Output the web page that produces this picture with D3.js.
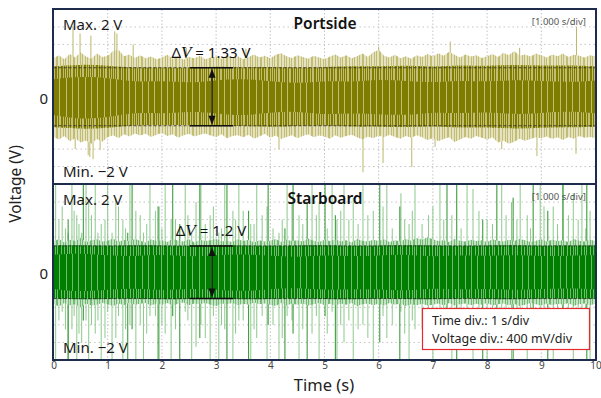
<!DOCTYPE html>
<html>
<head>
<meta charset="utf-8">
<script src="https://cdn.jsdelivr.net/npm/d3@7"></script>
<style>
  body { margin: 0; background: #fff; }
  svg { display: block; }
  text { font-family: "Noto Sans", "DejaVu Sans", sans-serif; }
</style>
</head>
<body>
<svg id="chart" width="601" height="398"></svg>
<script>
// ---- data -------------------------------------------------------------
const timeTicks = [0, 1, 2, 3, 4, 5, 6, 7, 8, 9, 10];
const voltDomain = [-2, 2];

// Envelope of the port-side trace, sampled every 0.1 s (V)
const portOuterHi = [
  0.88,0.95,0.86,0.98,0.90,1.02,0.92,0.87,0.99,0.91,
  0.94,1.05,1.08,0.93,0.97,0.89,0.95,0.88,0.92,0.86,
  0.90,0.96,0.87,0.93,0.85,0.91,0.88,0.94,0.86,0.90,
  0.92,0.87,0.95,0.89,0.93,0.86,0.91,0.97,0.90,0.94,
  0.88,0.96,1.00,0.93,0.89,0.95,0.91,0.87,0.94,0.90,
  0.86,0.92,0.97,0.90,0.95,0.88,0.93,0.99,0.91,1.02,
  1.08,0.94,0.90,0.96,0.88,0.93,0.87,0.95,0.91,0.98,
  0.92,1.00,0.94,1.03,0.96,0.90,0.97,0.92,0.95,0.89,
  0.93,0.98,0.91,1.01,0.95,1.05,0.94,0.97,0.92,0.99,
  0.95,0.90,0.97,0.93,0.99,0.91,0.96,0.94,0.90,0.95,0.92];
const portOuterLo = [
  -0.92,-0.98,-0.90,-1.02,-0.95,-1.05,-1.00,-1.08,-0.97,-1.03,
  -0.93,-0.88,-0.95,-0.86,-0.91,-0.84,-0.89,-0.85,-0.92,-0.87,
  -0.83,-0.90,-0.86,-0.94,-0.88,-0.85,-0.91,-0.87,-0.84,-0.89,
  -0.92,-0.86,-0.95,-0.90,-0.88,-0.93,-0.87,-0.96,-0.91,-0.85,
  -0.94,-0.89,-0.97,-0.92,-0.88,-0.95,-0.90,-0.86,-0.93,-0.89,
  -0.91,-0.96,-0.88,-0.94,-0.90,-0.87,-0.93,-0.98,-0.91,-0.95,
  -0.89,-0.93,-0.87,-0.92,-0.96,-0.90,-0.94,-0.88,-0.93,-0.99,
  -0.95,-1.02,-0.97,-0.93,-1.04,-0.98,-0.92,-0.96,-0.90,-0.94,
  -0.98,-0.93,-1.05,-1.00,-1.08,-1.03,-0.96,-1.01,-0.97,-0.93,
  -0.95,-0.91,-0.97,-0.93,-0.99,-0.92,-0.96,-0.90,-0.94,-0.92,-0.95];
// Dense part of the port-side trace, sampled every 0.5 s (V)
const portMidHi  = [0.70,0.74,0.72,0.66,0.68,0.65,0.70,0.67,0.69,0.66,0.68,0.71,0.69,0.72,0.68,0.73,0.70,0.74,0.71,0.72,0.70];
const portMidLo  = [-0.70,-0.74,-0.72,-0.64,-0.66,-0.64,-0.68,-0.66,-0.70,-0.67,-0.66,-0.69,-0.68,-0.70,-0.67,-0.72,-0.69,-0.74,-0.71,-0.70,-0.69];
const portCoreHi = [0.40,0.47,0.44,0.33,0.37,0.31,0.38,0.42,0.35,0.30,0.37,0.33,0.40,0.36,0.32,0.38,0.34,0.39,0.36,0.33,0.37];
const portCoreLo = [-0.42,-0.52,-0.48,-0.35,-0.40,-0.33,-0.38,-0.44,-0.36,-0.33,-0.42,-0.37,-0.40,-0.43,-0.35,-0.39,-0.34,-0.41,-0.37,-0.33,-0.38];
// Isolated port-side spikes: time (s) and peak (V)
const portSpikeT = [0.36,0.40,0.49,0.64,0.67,0.69,0.73,0.86,1.13,1.17,1.47,2.45,3.55,4.16,5.71,6.00,6.08,6.61,7.04,7.32,8.27,8.60,8.92,9.64,9.65];
const portSpikeV = [1.60,-1.20,1.45,-1.34,-1.38,1.40,-1.43,-1.22,1.50,1.45,1.20,1.12,1.10,-1.20,-1.73,1.15,-1.52,-1.61,-1.15,1.27,-1.20,1.12,-1.36,-1.31,1.60];

// Envelope of the starboard trace, sampled every 0.1 s (V)
const starOuterHi = [
  0.70,0.76,0.68,0.74,0.71,0.78,0.69,0.73,0.75,0.70,
  0.72,0.77,0.69,0.74,0.70,0.76,0.72,0.68,0.75,0.71,
  0.73,0.69,0.77,0.72,0.70,0.75,0.68,0.74,0.71,0.73,
  0.76,0.70,0.72,0.69,0.75,0.71,0.74,0.68,0.73,0.70,
  0.72,0.76,0.69,0.74,0.71,0.73,0.70,0.77,0.72,0.69,
  0.74,0.71,0.75,0.70,0.73,0.68,0.76,0.72,0.70,0.74,
  0.71,0.75,0.69,0.73,0.70,0.76,0.72,0.78,0.74,0.80,
  0.75,0.71,0.73,0.69,0.76,0.72,0.70,0.74,0.71,0.73,
  0.69,0.75,0.72,0.70,0.74,0.71,0.76,0.73,0.69,0.72,
  0.75,0.70,0.74,0.71,0.73,0.69,0.76,0.72,0.70,0.74,0.71];
const starOuterLo = [
  -0.72,-0.78,-0.70,-0.75,-0.73,-0.80,-0.71,-0.76,-0.74,-0.70,
  -0.73,-0.77,-0.71,-0.75,-0.69,-0.74,-0.72,-0.70,-0.76,-0.71,
  -0.74,-0.70,-0.76,-0.72,-0.69,-0.75,-0.71,-0.73,-0.70,-0.74,
  -0.77,-0.71,-0.73,-0.70,-0.75,-0.72,-0.74,-0.69,-0.73,-0.71,
  -0.74,-0.77,-0.70,-0.75,-0.72,-0.74,-0.71,-0.76,-0.73,-0.70,
  -0.75,-0.72,-0.76,-0.71,-0.74,-0.70,-0.77,-0.73,-0.71,-0.75,
  -0.72,-0.76,-0.70,-0.74,-0.71,-0.77,-0.73,-0.75,-0.72,-0.76,
  -0.74,-0.71,-0.75,-0.70,-0.76,-0.73,-0.71,-0.75,-0.72,-0.74,
  -0.70,-0.76,-0.73,-0.71,-0.75,-0.72,-0.77,-0.74,-0.70,-0.73,
  -0.76,-0.71,-0.75,-0.72,-0.74,-0.70,-0.77,-0.73,-0.71,-0.75,-0.72];
// Dense part of the starboard trace, sampled every 0.5 s (V)
const starMidHi  = [0.61,0.62,0.60,0.62,0.61,0.60,0.62,0.61,0.60,0.61,0.62,0.60,0.61,0.62,0.61,0.60,0.61,0.62,0.60,0.61,0.61];
const starMidLo  = [-0.60,-0.62,-0.61,-0.60,-0.62,-0.61,-0.60,-0.62,-0.61,-0.60,-0.61,-0.62,-0.60,-0.61,-0.62,-0.60,-0.61,-0.62,-0.60,-0.61,-0.60];
const starCoreHi = [0.40,0.44,0.38,0.36,0.41,0.35,0.39,0.42,0.37,0.34,0.40,0.36,0.38,0.41,0.35,0.39,0.37,0.40,0.36,0.38,0.39];
const starCoreLo = [-0.38,-0.45,-0.40,-0.36,-0.42,-0.37,-0.40,-0.44,-0.38,-0.35,-0.41,-0.38,-0.39,-0.43,-0.36,-0.40,-0.37,-0.41,-0.38,-0.36,-0.39];
// Starboard spikes: time (s), upper and lower extent (V)
const starLightSpikeT = [0.04,0.16,0.27,0.34,0.43,0.52,0.60,0.65,0.77,0.88,1.00,1.08,1.15,1.28,1.41,1.52,1.66,1.78,1.95,2.06,
  2.17,2.43,2.55,2.63,2.72,2.89,3.05,3.16,3.31,3.42,3.64,3.75,3.94,4.16,4.31,4.53,4.77,4.90,5.14,5.23,
  5.36,5.53,5.71,5.90,6.15,6.41,6.56,6.67,7.00,7.13,7.35,7.63,7.74,8.00,8.27,8.45,8.61,8.74,8.98,9.22,9.40,9.59,9.75,9.90];
const starLightSpikeHi = [2.0,1.5,0.9,2.0,1.3,0.9,2.0,1.6,2.0,1.1,2.0,0.9,1.7,1.2,2.0,1.4,0.9,2.0,1.5,2.0,
  1.2,2.0,0.9,1.6,2.0,1.3,0.9,2.0,1.4,2.0,1.1,2.0,1.5,0.9,2.0,1.3,2.0,1.6,2.0,1.2,
  2.0,1.7,2.0,1.4,2.0,1.8,1.1,2.0,1.5,2.0,1.3,2.0,1.9,1.2,2.0,1.6,2.0,1.3,2.0,1.5,2.0,1.8,2.0,1.4];
const starLightSpikeLo = [-2.0,-0.9,-2.0,-1.3,-2.0,-1.6,-1.1,-2.0,-1.4,-2.0,-0.9,-2.0,-1.5,-2.0,-1.2,-2.0,-2.0,-1.0,-2.0,-1.4,
  -2.0,-0.9,-2.0,-1.7,-1.2,-2.0,-2.0,-1.3,-2.0,-1.1,-2.0,-1.5,-2.0,-2.0,-1.0,-2.0,-1.4,-2.0,-0.9,-2.0,
  -1.6,-2.0,-1.2,-2.0,-1.5,-0.9,-2.0,-1.3,-2.0,-1.1,-2.0,-1.6,-2.0,-2.0,-1.0,-2.0,-1.4,-2.0,-1.7,-2.0,-1.2,-2.0,-0.9,-2.0];
const starShortSpikeT = [0.10,0.22,0.38,0.47,0.70,0.82,0.95,1.20,1.33,1.60,1.72,1.88,2.00,2.25,2.48,2.80,2.95,3.10,3.36,3.50,
  3.70,3.85,4.05,4.22,4.40,4.60,4.85,5.05,5.30,5.45,5.62,5.80,6.08,6.25,6.48,6.62,6.80,6.92,7.20,7.52,
  7.85,8.10,8.35,8.55,8.80,9.05,9.30,9.50,9.68,9.82];
const starShortSpikeHi = [1.2,1.0,1.4,1.1,1.3,0.9,1.2,1.5,1.0,1.3,1.1,1.4,1.0,1.2,1.3,1.1,1.5,1.0,1.2,1.4,
  1.1,1.3,1.0,1.2,1.6,1.1,1.3,1.0,1.4,1.2,1.1,1.3,1.5,1.0,1.2,1.4,1.1,1.3,1.2,1.0,
  1.4,1.1,1.3,1.2,1.0,1.5,1.1,1.3,1.2,1.0];
const starShortSpikeLo = [-1.1,-1.3,-1.0,-1.4,-1.2,-1.1,-1.5,-1.0,-1.3,-1.2,-1.4,-1.0,-1.2,-1.3,-1.1,-1.5,-1.0,-1.2,-1.4,-1.1,
  -1.3,-1.0,-1.2,-1.5,-1.1,-1.3,-1.0,-1.4,-1.2,-1.1,-1.3,-1.5,-1.0,-1.2,-1.4,-1.1,-1.3,-1.0,-1.2,-1.4,
  -1.1,-1.3,-1.0,-1.5,-1.2,-1.1,-1.3,-1.0,-1.4,-1.2];
const starDarkSpikeT  = [0.27,0.55,1.37,1.45,1.93,2.20,2.33,2.70,3.20,3.60,3.96,4.27,4.42,4.68,5.01,5.20,6.02,6.39,7.26,7.44,7.92,8.18,8.48,8.85,9.12,9.40,9.84];
const starDarkSpikeHi = [1.2,2.0,0.9,2.0,1.5,2.0,1.1,2.0,2.0,1.4,2.0,1.0,2.0,1.6,2.0,1.3,2.0,1.5,2.0,2.0,1.2,2.0,1.7,2.0,1.4,2.0,2.0];
const starDarkSpikeLo = [-2.0,-1.1,-2.0,-1.3,-2.0,-1.0,-2.0,-1.5,-2.0,-2.0,-1.2,-2.0,-1.4,-2.0,-1.0,-2.0,-1.6,-2.0,-1.3,-2.0,-2.0,-1.1,-2.0,-1.5,-2.0,-1.2,-2.0];

// Peak-to-peak readings marked on each trace (V)
const deltaV = [1.33, 1.2];
const panelNames = ["Portside", "Starboard"];

// ---- layout -----------------------------------------------------------
const svg = d3.select("#chart");
const left = 53.5, right = 595.5;
const panelTops = [9.5, 184.5], panelBottoms = [184, 360];
const x = d3.scaleLinear().domain([0, 10]).range([left, right]);
const outerTimes = d3.range(101).map(i => i / 10);
const innerTimes = d3.range(21).map(i => i / 2);

const palettes = [
  { dark: "#7e7d00", light: "#c2bd72", pale: "#e4e2c0", spike: "#bcb76a" },
  { dark: "#007e00", light: "#72b972", pale: "#c4e2c4", spike: "#8cc98c", darkSpike: "#2a922a" }
];

// vertical-stripe fills give the banded look of a densely sampled trace
const defs = svg.append("defs");
function stripes(id, w, base, stripe, xs) {
  const p = defs.append("pattern").attr("id", id)
    .attr("patternUnits", "userSpaceOnUse").attr("width", w).attr("height", 10);
  p.append("rect").attr("width", w).attr("height", 10).attr("fill", base);
  xs.forEach(([sx, sw]) => p.append("rect").attr("x", sx).attr("width", sw).attr("height", 10).attr("fill", stripe));
}
palettes.forEach((c, k) => {
  stripes("outer" + k, 17, c.pale, c.light, [[0, 1], [2, 1], [5, 2], [9, 1], [12, 1], [14, 1]]);
  stripes("mid" + k, 23, c.dark, c.light,
    k === 0 ? [[0, 1], [2, 2], [6, 1], [8, 1], [11, 1], [13, 2], [17, 1], [19, 1], [21, 1]]
            : [[0, 1], [2, 1], [6, 1], [9, 1], [11, 1], [15, 1], [18, 1], [21, 1]]);
  stripes("core" + k, 19, c.dark, c.light, [[2, 1], [9, 1], [15, 1]]);
});

const series = [
  { outerHi: portOuterHi, outerLo: portOuterLo, midHi: portMidHi, midLo: portMidLo, coreHi: portCoreHi, coreLo: portCoreLo },
  { outerHi: starOuterHi, outerLo: starOuterLo, midHi: starMidHi, midLo: starMidLo, coreHi: starCoreHi, coreLo: starCoreLo }
];

function spikeLines(plot, cls, times, hi, lo, y, color) {
  plot.selectAll("." + cls).data(times).join("line").attr("class", cls)
    .attr("x1", d => x(d)).attr("x2", d => x(d))
    .attr("y1", (d, i) => y(hi[i])).attr("y2", (d, i) => y(lo[i]))
    .attr("stroke", color).attr("stroke-width", 1);
}

series.forEach((s, k) => {
  const top = panelTops[k], bottom = panelBottoms[k];
  const y = d3.scaleLinear().domain(voltDomain).range([bottom, top]);
  const c = palettes[k];
  const g = svg.append("g");
  defs.append("clipPath").attr("id", "clip" + k)
    .append("rect").attr("x", left).attr("y", top).attr("width", right - left).attr("height", bottom - top);
  const plot = g.append("g").attr("clip-path", `url(#clip${k})`);

  // dotted grid: one line per second and per 400 mV
  plot.selectAll(".vg").data(timeTicks.slice(1, -1)).join("line").attr("class", "vg")
    .attr("x1", d => x(d)).attr("x2", d => x(d)).attr("y1", top).attr("y2", bottom)
    .attr("stroke", "#c4c4c4").attr("stroke-width", 1).attr("stroke-dasharray", "1.5,2");
  plot.selectAll(".hg").data(d3.range(1, 10).map(i => -2 + i * 0.4)).join("line").attr("class", "hg")
    .attr("x1", left).attr("x2", right).attr("y1", d => y(d)).attr("y2", d => y(d))
    .attr("stroke", "#c4c4c4").attr("stroke-width", 1).attr("stroke-dasharray", "1.5,3");

  // spikes
  if (k === 0) {
    spikeLines(plot, "sp", portSpikeT, portSpikeV, portSpikeT.map(() => 0), y, c.spike);
  } else {
    spikeLines(plot, "ss", starShortSpikeT, starShortSpikeHi, starShortSpikeLo, y, c.spike);
    spikeLines(plot, "sl", starLightSpikeT, starLightSpikeHi, starLightSpikeLo, y, c.spike);
    spikeLines(plot, "sd", starDarkSpikeT, starDarkSpikeHi, starDarkSpikeLo, y, c.darkSpike);
  }

  // signal envelope layers
  const band = (times, hi, lo, curve) => d3.area()
    .x((d, i) => x(times[i])).y1((d, i) => y(hi[i])).y0((d, i) => y(lo[i])).curve(curve)(times);
  plot.append("path").attr("d", band(outerTimes, s.outerHi, s.outerLo, d3.curveLinear)).attr("fill", "url(#outer" + k + ")");
  plot.append("path").attr("d", band(innerTimes, s.midHi, s.midLo, d3.curveBasis)).attr("fill", "url(#mid" + k + ")");
  plot.append("path").attr("d", band(innerTimes, s.coreHi, s.coreLo, d3.curveBasis)).attr("fill", "url(#core" + k + ")");

  // peak-to-peak reference lines
  const half = deltaV[k] / 2;
  plot.selectAll(".dv").data([half, -half]).join("line").attr("class", "dv")
    .attr("x1", left).attr("x2", right).attr("y1", d => y(d)).attr("y2", d => y(d))
    .attr("stroke", "#2a2a2a").attr("stroke-width", 0.8).attr("stroke-dasharray", "3,2");

  // measurement arrow
  const ax = 212;
  g.selectAll(".bar").data([half, -half]).join("line").attr("class", "bar")
    .attr("x1", ax - 22).attr("x2", ax + 21).attr("y1", d => y(d)).attr("y2", d => y(d))
    .attr("stroke", "#111").attr("stroke-width", 1.5);
  g.append("line").attr("x1", ax).attr("x2", ax).attr("y1", y(half) + 6).attr("y2", y(-half) - 6)
    .attr("stroke", "#111").attr("stroke-width", 1.3);
  g.append("path").attr("d", `M${ax},${y(half) + 1}l-3.5,9h7z`).attr("fill", "#111");
  g.append("path").attr("d", `M${ax},${y(-half) - 1}l-3.5,-9h7z`).attr("fill", "#111");

  const lab = g.append("text").attr("x", 211).attr("y", y(half) - 10).attr("text-anchor", "middle")
    .attr("font-size", 15).attr("fill", "#111");
  lab.append("tspan").text("Δ");
  lab.append("tspan").attr("font-style", "italic").attr("font-family", "Liberation Serif, serif").attr("font-size", 17).text("V");
  lab.append("tspan").text(" = " + deltaV[k] + " V");

  // panel labels
  g.append("text").attr("x", 63).attr("y", top + 20.5).attr("font-size", 15).attr("fill", "#1a1a1a").text("Max. 2 V");
  g.append("text").attr("x", 63).attr("y", bottom - 7.5).attr("font-size", 15).attr("fill", "#1a1a1a").text("Min. \u22122 V");
  g.append("text").attr("x", 325).attr("y", top + 19.5).attr("text-anchor", "middle")
    .attr("font-size", 15.5).attr("font-weight", 600).attr("fill", "#111").text(panelNames[k]);
  g.append("text").attr("x", 586).attr("y", top + 15.5).attr("text-anchor", "end")
    .attr("font-size", 9.5).attr("fill", "#555").text("[1.000 s/div]");
  g.append("text").attr("x", 48).attr("y", y(0) + 7).attr("text-anchor", "end")
    .attr("font-size", 15).attr("fill", "#222").text("0");

  // panel frame
  g.append("rect").attr("x", left - 0.5).attr("y", top - 0.5).attr("width", right - left + 1).attr("height", bottom - top + 0.5)
    .attr("fill", "none").attr("stroke", "#1d2c4c").attr("stroke-width", 2);
});

// time axis
const axis = d3.axisBottom(x).tickValues(timeTicks).tickSize(0).tickPadding(2).tickFormat(d3.format("d"));
const axG = svg.append("g").attr("transform", `translate(0,${panelBottoms[1]})`).call(axis);
axG.select(".domain").remove();
axG.selectAll("text").attr("font-size", 10).attr("fill", "#444")
  .style("font-family", '"Noto Sans", "DejaVu Sans", sans-serif');

svg.append("text").attr("x", 324).attr("y", 391).attr("text-anchor", "middle")
  .attr("font-size", 16.5).attr("fill", "#222").text("Time (s)");
svg.append("text").attr("transform", "translate(21,184) rotate(-90)").attr("text-anchor", "middle")
  .attr("font-size", 15.5).attr("fill", "#222").text("Voltage (V)");

// division legend
const leg = svg.append("g");
leg.append("rect").attr("x", 422.5).attr("y", 308.5).attr("width", 167).attr("height", 41)
  .attr("fill", "#fff").attr("stroke", "#e8282c").attr("stroke-width", 1.2);
leg.append("text").attr("x", 432).attr("y", 325).attr("font-size", 12.5).attr("fill", "#222").text("Time div.: 1 s/div");
leg.append("text").attr("x", 432).attr("y", 342.5).attr("font-size", 12.5).attr("fill", "#222").text("Voltage div.: 400 mV/div");
</script>
</body>
</html>
